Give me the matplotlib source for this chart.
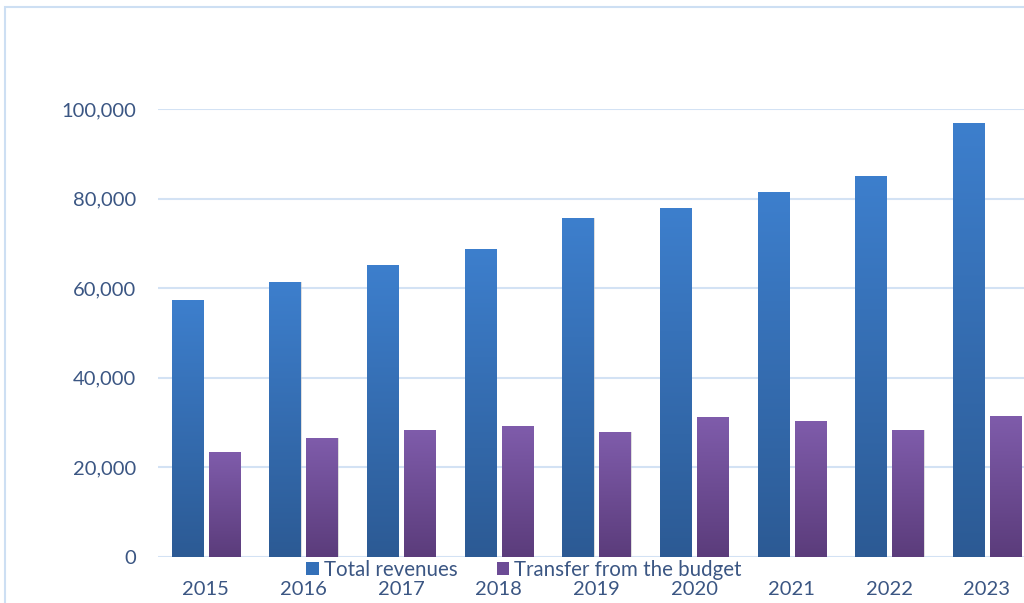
import numpy as np
import matplotlib.pyplot as plt
from matplotlib.patches import Rectangle
from matplotlib.colors import LinearSegmentedColormap
from matplotlib.ticker import FuncFormatter

years = ['2015', '2016', '2017', '2018', '2019', '2020', '2021', '2022', '2023']
total_revenues = [57300, 61400, 65200, 68800, 75700, 77900, 81400, 85100, 96900]
budget_transfer = [23400, 26600, 28400, 29200, 27900, 31200, 30400, 28400, 31500]

text_color = '#3b5683'
grid_color = '#d3e2f4'
blue = '#3470b8'
purple = '#6c4b95'

plt.rcParams['font.family'] = ['Lato', 'DejaVu Sans']


def gradient_bars(ax, bars, top, bottom):
    cmap = LinearSegmentedColormap.from_list('g', [bottom, top])
    grad = np.linspace(0, 1, 256).reshape(-1, 1)
    for b in bars:
        x, w, h = b.get_x(), b.get_width(), b.get_height()
        im = ax.imshow(grad, cmap=cmap, origin='lower', aspect='auto',
                       extent=(x, x + w, 0, h), zorder=3)
        im.set_clip_path(b)
        # faint shadow on the right edge
        ax.add_patch(Rectangle((x + w, 0), w * 0.04, h, color='#bfbfbf',
                               alpha=0.5, lw=0, zorder=2))


fig = plt.figure(figsize=(10.24, 6.03), dpi=100)
ax = fig.add_axes([158 / 1024, 1 - 557 / 603, 1 - 158 / 1024, (557 - 109) / 603])

x = np.arange(len(years))
w = 0.318
off = 0.19
b1 = ax.bar(x - off, total_revenues, w, color=blue, lw=0, zorder=3,
            label='Total revenues')
b2 = ax.bar(x + off, budget_transfer, w, color=purple, lw=0, zorder=3,
            label='Transfer from the budget')
gradient_bars(ax, b1, '#3d7fcd', '#2c5a94')
gradient_bars(ax, b2, '#7f5cab', '#5b3c7b')

ax.set_xlim(-0.49, 8.38)
ax.set_ylim(0, 100000)
ax.set_yticks(range(0, 100001, 20000))
ax.yaxis.set_major_formatter(FuncFormatter(lambda v, p: f'{int(v):,}'))
ax.set_xticks(x)
ax.set_xticklabels(years)
ax.tick_params(length=0, labelsize=14.5, colors=text_color)
ax.tick_params(axis='y', pad=16)
ax.tick_params(axis='x', pad=17)
ax.grid(axis='y', color=grid_color, lw=1.5, zorder=0)
ax.set_axisbelow(True)
for s in ax.spines.values():
    s.set_visible(False)

leg = fig.legend(handles=[b1, b2], loc='center', bbox_to_anchor=(524 / 1024, 1 - 570 / 603),
                 ncol=2, frameon=False, fontsize=14.8, handlelength=0.6, handleheight=0.6,
                 handletextpad=0.25, columnspacing=1.9, borderpad=0)
for t in leg.get_texts():
    t.set_color(text_color)
for h, c in zip(leg.legend_handles, [blue, purple]):
    h.set_facecolor(c)
    h.set_edgecolor(c)

# outer chart border, cropped on the right and bottom
fig.patches.append(Rectangle((4.5 / 1024, -0.1), 1.2, 1 - 7.5 / 603 + 0.1,
                             transform=fig.transFigure, fill=False,
                             edgecolor='#cddff3', lw=1.5))

fig.savefig('out.png', dpi=100)
